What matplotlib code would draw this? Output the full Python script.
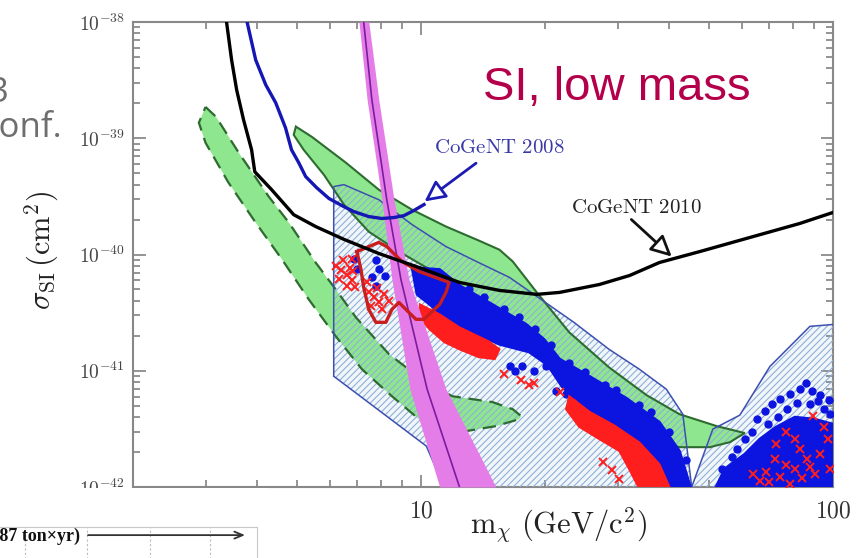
import numpy as np
import matplotlib
matplotlib.use("Agg")
import matplotlib.pyplot as plt
from matplotlib.patches import Polygon, Rectangle
from matplotlib.ticker import FixedLocator, FuncFormatter, NullFormatter

plt.rcParams["mathtext.fontset"] = "cm"
plt.rcParams["hatch.linewidth"] = 0.8

W, H = 858, 558

# CoGeNT 2010 exclusion limit
cogent10_m = [3.35, 3.47, 3.57, 3.71, 3.88, 3.95, 4.34, 4.91, 5.55, 6.50, 7.9, 9.89,
              12.4, 15.5, 19.1, 21.7, 27.1, 32.1, 37.9, 47.5, 62.8, 83.1, 100]
cogent10_s = [1.2e-38, 4.72e-39, 2.6e-39, 1.44e-39, 7.96e-40, 5.15e-40, 3.61e-40, 2.2e-40,
              1.74e-40, 1.35e-40, 1.02e-40, 7.73e-41, 5.75e-41, 4.91e-41, 4.54e-41, 4.72e-41,
              5.52e-41, 6.6e-41, 8.53e-41, 1.06e-40, 1.40e-40, 1.85e-40, 2.3e-40]

# CoGeNT 2008 exclusion limit
cogent08_m = [3.75, 3.97, 4.20, 4.44, 4.69, 4.85, 5.05, 5.25, 5.58, 5.98, 6.50, 6.87,
              7.47, 8.04, 8.60, 9.09, 9.61, 10.17]
cogent08_s = [1.15e-38, 4.72e-39, 2.88e-39, 2.02e-39, 1.23e-39, 7.96e-40, 6.16e-40, 4.68e-40,
              3.76e-40, 3.03e-40, 2.58e-40, 2.34e-40, 2.12e-40, 2.04e-40, 2.08e-40, 2.16e-40,
              2.39e-40, 2.69e-40]

# DAMA without channeling (dashed)
dama_nc_m = [3.00, 3.18, 3.61, 4.27, 4.78, 5.55, 6.21, 6.95, 8.36, 9.89, 11.9, 14.9, 16.7,
             17.5, 17.3, 15.2, 12.9, 11.1, 9.89, 8.50, 7.19, 6.21, 5.34, 4.60, 3.97, 3.41,
             3.00, 2.89]
dama_nc_s = [1.86e-39, 1.53e-39, 7.52e-40, 3.15e-40, 1.88e-40, 8.53e-41, 5.01e-41, 2.88e-41,
             1.39e-41, 8.79e-42, 6.04e-42, 5.38e-42, 4.67e-42, 4.07e-42, 3.83e-42, 3.34e-42,
             3.03e-42, 3.27e-42, 3.83e-42, 6.04e-42, 1.03e-41, 1.98e-41, 4.11e-41, 9.06e-41,
             1.88e-40, 4.15e-40, 9.14e-40, 1.36e-39]

# DAMA with channeling (solid)
dama_c_m = [4.97, 5.43, 6.57, 7.90, 9.51, 11.5, 13.8, 15.5, 16.7, 19.1, 22.9, 28.6, 35.3,
            42.4, 52.2, 61.1, 56.2, 50.2, 42.4, 37.9, 33.9, 28.6, 24.2, 20.5, 17.3, 14.6,
            12.4, 10.5, 8.84, 7.47, 6.50, 5.81, 5.19, 4.91]
dama_c_s = [1.26e-39, 1.03e-39, 6.17e-40, 3.61e-40, 2.43e-40, 1.74e-40, 1.32e-40, 1.10e-40,
            8.71e-41, 4.72e-41, 2.14e-41, 1.07e-41, 6.16e-42, 4.23e-42, 3.34e-42, 2.91e-42,
            2.43e-42, 2.20e-42, 2.20e-42, 2.43e-42, 3.15e-42, 5.15e-42, 8.45e-42, 1.39e-41,
            2.27e-41, 3.37e-41, 5.01e-41, 7.43e-41, 1.06e-40, 1.57e-40, 2.69e-40, 4.86e-40,
            7.96e-40, 1.07e-39]

# hatched allowed region
hatch_m = [6.14, 6.50, 7.90, 9.51, 11.5, 13.8, 16.4, 19.1, 23.5, 28.6, 33.9, 39.4, 43.2,
           45.4, 51.1, 59.4, 70.3, 87.9, 100, 150, 150, 12.4, 10.3, 6.14]
hatch_s = [3.84e-40, 3.99e-40, 2.96e-40, 1.81e-40, 1.17e-40, 8.53e-41, 6.35e-41, 4.36e-41,
           2.61e-41, 1.53e-41, 1.03e-41, 6.94e-42, 4.23e-42, 1.0e-42, 3.15e-42, 4.15e-42,
           1.09e-41, 2.41e-41, 2.5e-41, 2.5e-41, 5e-43, 5e-43, 2.25e-42, 8.97e-42]

# magenta band with its central curve
band_s = [1.0e-38, 2.14e-39, 2.96e-40, 6.1e-41, 6.94e-42, 1.0e-42]
band_lo = [7.07, 7.40, 8.04, 8.50, 9.40, 11.1]
band_hi = [7.47, 7.90, 8.60, 9.35, 11.5, 15.2]
band_mid = [7.26, 7.60, 8.26, 8.94, 10.35, 12.4]

# red contour
red_m = [6.99, 7.90, 8.26, 8.99, 9.89, 11.7, 11.5, 11.1, 10.17, 9.72, 9.19, 8.84, 8.50,
         8.22, 7.77, 7.47, 7.26, 7.15, 6.99]
red_s = [1.06e-40, 1.27e-40, 1.17e-40, 8.71e-41, 7.15e-41, 5.75e-41, 4.72e-41, 3.72e-41,
         2.77e-41, 2.77e-41, 3.37e-41, 3.87e-41, 3.37e-41, 2.61e-41, 2.61e-41, 3.37e-41,
         5.21e-41, 7.43e-41, 1.06e-40]

# dense parts of the model scan
blue_core_m = [9.51, 11.1, 12.4, 14.9, 18.0, 19.9, 21.7, 26.1, 31.5, 37.9, 42.4, 46.1,
               39.7, 35.8, 31.2, 27.1, 23.9, 22.0, 20.3, 18.3, 15.5, 13.1, 11.4, 10.5, 9.78]
blue_core_s = [7.73e-41, 7.43e-41, 5.42e-41, 3.72e-41, 2.51e-41, 1.86e-41, 1.26e-41,
               8.63e-42, 5.81e-42, 3.61e-42, 2.04e-42, 7.7e-43, 7.7e-43, 1.57e-42, 2.58e-42,
               3.83e-42, 5.47e-42, 7.3e-42, 1.12e-41, 1.45e-41, 1.69e-41, 2.2e-41, 2.88e-41,
               3.72e-41, 4.54e-41]
blue_right_m = [50.2, 54.6, 61.1, 66.4, 72.7, 80.8, 90.4, 100, 120, 120]
blue_right_s = [7.7e-43, 1.43e-42, 1.92e-42, 2.58e-42, 3.27e-42, 3.99e-42, 3.83e-42,
                3.47e-42, 3.47e-42, 7.7e-43]
red_core1_m = [9.94, 11.1, 12.4, 14.6, 15.5, 15.1, 13.8, 12.4, 11.4, 10.5, 9.89]
red_core1_s = [3.72e-41, 3.05e-41, 2.36e-41, 1.79e-41, 1.53e-41, 1.26e-41, 1.31e-41,
               1.53e-41, 1.76e-41, 2.27e-41, 2.88e-41]
red_core2_m = [22.9, 25.6, 29.5, 33.9, 37.9, 41.4, 35.0, 32.0, 30.3, 27.1, 24.2, 22.5]
red_core2_s = [6.04e-42, 4.45e-42, 3.37e-42, 2.41e-42, 1.57e-42, 7.7e-43, 7.7e-43,
               1.43e-42, 2.04e-42, 2.58e-42, 3.30e-42, 4.67e-42]

# individual scan points around the dense parts
blue_low_m = [6.87, 6.99, 7.77, 7.90, 7.59, 7.77, 8.18]
blue_low_s = [9.06e-41, 7.43e-41, 8.9e-41, 7.43e-41, 6.4e-41, 5.4e-41, 6.5e-41]
blue_edge_m = [13.1, 14.2, 15.9, 17.3, 18.9, 20.7, 22.9, 25.0, 27.9, 29.8, 33.9, 36.2,
               40.1, 43.9, 16.4, 17.6, 20.1, 21.3, 22.5, 18.8, 16.9]
blue_edge_s = [5.01e-41, 4.3e-41, 3.37e-41, 2.9e-41, 2.27e-41, 1.65e-41, 1.17e-41, 9.8e-42,
               7.5e-42, 6.8e-42, 5.1e-42, 4.4e-42, 3.0e-42, 1.7e-42, 1.09e-41, 1.09e-41,
               1.09e-41, 6.7e-42, 6.3e-42, 9.9e-42, 9.9e-42]
blue_high_m = [65.3, 68.3, 71.2, 74.3, 78.6, 83.1, 86.1, 88.9, 92.9, 97.6, 69.5, 77.5,
               81.6, 87.9, 95.0, 61.1, 58.4, 63.5, 73.5, 91.8, 98.4, 56.8, 53.7]
blue_high_s = [3.83e-42, 4.5e-42, 5.15e-42, 5.69e-42, 6.28e-42, 6.93e-42, 7.8e-42, 6.7e-42,
               6.2e-42, 5.6e-42, 3.47e-42, 4.67e-42, 5.3e-42, 5.15e-42, 4.67e-42, 2.58e-42,
               2.12e-42, 3.0e-42, 4.0e-42, 5.5e-42, 4.23e-42, 1.8e-42, 1.43e-42]
red_low_m = [6.21, 6.40, 6.60, 6.73, 6.80, 6.84, 6.32, 6.60, 6.91, 6.80, 6.45,
             7.47, 7.68, 7.90, 8.13, 7.81, 7.57, 8.04, 8.36, 7.38]
red_low_s = [7.9e-41, 7.3e-41, 6.6e-41, 7.7e-41, 6.0e-41, 7.2e-41, 6.2e-41, 5.4e-41,
             5.3e-41, 9.06e-41, 8.9e-41, 4.8e-41, 4.3e-41, 3.9e-41, 4.54e-41, 5.1e-41,
             3.6e-41, 3.4e-41, 4.0e-41, 5.8e-41]
red_mid_m = [15.9, 17.5, 18.3, 18.8, 27.6, 30.3, 29.0, 23.2, 24.5, 21.7]
red_mid_s = [9.3e-42, 8.4e-42, 7.5e-42, 7.9e-42, 1.64e-42, 1.17e-42, 1.4e-42, 5.2e-42,
             4.2e-42, 6.6e-42]
red_high_m = [76.8, 89.4, 86.6, 68.8, 97.1, 80.8, 74.3, 92.9, 66.4, 83.1, 72.3, 90.4,
              78.6, 72.7, 98.4, 70.0, 77.0, 84.0, 95.0, 64.0, 81.0, 88.0]
red_high_s = [2.96e-42, 4.06e-42, 1.74e-42, 1.35e-42, 2.58e-42, 1.43e-42, 1.23e-42,
              1.92e-42, 1.12e-42, 2.12e-42, 1.74e-42, 1.29e-42, 1.06e-42, 2.34e-42, 1.43e-42,
              1.10e-42, 1.55e-42, 1.20e-42, 3.30e-42, 1.30e-42, 2.60e-42, 1.50e-42]

x_major = [10, 100]
x_minor = [2, 3, 4, 5, 6, 7, 8, 9, 20, 30, 40, 50, 60, 70, 80, 90]
y_major = [1e-42, 1e-41, 1e-40, 1e-39, 1e-38]

GREEN = "#8EE68E"
DKGREEN = "#2E6B30"
HATCH = "#8FB0D6"
BLUE = "#0C14E0"
RED = "#FF1E1E"


def poly(m, s):
    return np.column_stack([m, s])


fig = plt.figure(figsize=(W / 100, H / 100), dpi=100)
fig.patch.set_facecolor("white")
ax = fig.add_axes([133 / W, 1 - 487 / H, 700 / W, 465 / H])
ax.set_xscale("log")
ax.set_yscale("log")
ax.set_xlim(2, 100)
ax.set_ylim(1e-42, 1e-38)

# regions: light base of the hatched area, green DAMA regions, then hatching on top
ax.add_patch(Polygon(poly(hatch_m, hatch_s), closed=True, fc="#F1F6FB", ec="none", zorder=1))
ax.add_patch(Polygon(poly(dama_nc_m, dama_nc_s), closed=True, fc=GREEN, ec="none", zorder=2))
ax.add_patch(Polygon(poly(dama_c_m, dama_c_s), closed=True, fc=GREEN, ec="none", zorder=2))
ax.add_patch(Polygon(poly(hatch_m, hatch_s), closed=True, fill=False, hatch="/////",
                     ec=HATCH, lw=0, zorder=3))
ax.add_patch(Polygon(poly(dama_nc_m, dama_nc_s), closed=True, fill=False, ec=DKGREEN,
                     lw=1.6, ls=(0, (6, 3.5)), zorder=4))
ax.add_patch(Polygon(poly(dama_c_m, dama_c_s), closed=True, fill=False, ec=DKGREEN,
                     lw=1.5, zorder=4))
ax.add_patch(Polygon(poly(hatch_m, hatch_s), closed=True, fill=False, ec="#3D4FB0",
                     lw=1.1, zorder=4))

# model scan: blue dots and red crosses
ax.add_patch(Polygon(poly(blue_core_m, blue_core_s), closed=True, fc=BLUE, ec=BLUE, lw=2, zorder=5))
ax.add_patch(Polygon(poly(blue_right_m, blue_right_s), closed=True, fc=BLUE, ec=BLUE, lw=2, zorder=5))
for bm, bs in [(blue_low_m, blue_low_s), (blue_edge_m, blue_edge_s), (blue_high_m, blue_high_s)]:
    ax.plot(bm, bs, "o", ms=5, color=BLUE, mec=BLUE, zorder=5)
ax.add_patch(Polygon(poly(red_core1_m, red_core1_s), closed=True, fc=RED, ec=RED, lw=1.5, zorder=5.5))
ax.add_patch(Polygon(poly(red_core2_m, red_core2_s), closed=True, fc=RED, ec=RED, lw=1.5, zorder=5.5))
for rm, rs in [(red_low_m, red_low_s), (red_mid_m, red_mid_s), (red_high_m, red_high_s)]:
    ax.plot(rm, rs, "x", ms=6, mew=1.4, color=RED, zorder=5.5)

# magenta band
ax.fill_betweenx(band_s, band_lo, band_hi, color="#E57DE8", lw=0, zorder=6)
ax.plot(band_mid, band_s, color="#7A1C9C", lw=1.2, zorder=6.2)

# red contour and exclusion curves
ax.plot(red_m, red_s, color="#C81E1E", lw=2.4, solid_joinstyle="round", zorder=7)
ax.plot(cogent08_m, cogent08_s, color="#1616B4", lw=2.4, zorder=8)
ax.plot(cogent10_m, cogent10_s, color="black", lw=2.4, zorder=8)

ax.text(15.5, 8.45e-40, r"$\mathrm{CoGeNT\ 2008}$", ha="center", va="center",
        fontsize=15, color="#3838A8", zorder=9)
ax.annotate("", xy=(10.2, 2.86e-40), xytext=(13.6, 6.1e-40), zorder=9,
            arrowprops=dict(arrowstyle="-|>,head_length=0.9,head_width=0.45",
                            ec="#1C1CB4", fc="white", lw=2, mutation_scale=14,
                            shrinkA=0, shrinkB=0))
ax.text(33.3, 2.58e-40, r"$\mathrm{CoGeNT\ 2010}$", ha="center", va="center",
        fontsize=15, color="#222222", zorder=9)
ax.annotate("", xy=(40.6, 9.6e-41), xytext=(32.4, 2.0e-40), zorder=9,
            arrowprops=dict(arrowstyle="-|>,head_length=0.9,head_width=0.45",
                            ec="#111111", fc="white", lw=2, mutation_scale=14,
                            shrinkA=0, shrinkB=0))

# axes styling
ax.xaxis.set_major_locator(FixedLocator(x_major))
ax.xaxis.set_minor_locator(FixedLocator(x_minor))
ax.xaxis.set_major_formatter(FuncFormatter(lambda v, p: r"$%d$" % round(v)))
ax.xaxis.set_minor_formatter(NullFormatter())
ax.yaxis.set_major_locator(FixedLocator(y_major))
ax.yaxis.set_minor_locator(FixedLocator([k * 10.0 ** e for e in range(-42, -38) for k in range(2, 10)]))
ax.yaxis.set_major_formatter(FuncFormatter(lambda v, p: r"$10^{%d}$" % round(np.log10(v))))
ax.yaxis.set_minor_formatter(NullFormatter())
ax.tick_params(which="both", direction="in", top=True, right=True, color="#777777", width=1.1)
ax.tick_params(which="major", length=9)
ax.tick_params(which="minor", length=5)
ax.tick_params(axis="x", which="major", labelsize=17, labelcolor="#333333", pad=8)
ax.tick_params(axis="y", which="major", labelsize=14, labelcolor="#444444", pad=6)
for sp in ax.spines.values():
    sp.set_color("#888888")
    sp.set_linewidth(1.5)

fig.text(42 / W, 1 - 250 / H, r"$\sigma_{\mathrm{SI}}\,(\mathrm{cm}^2)$", rotation=90,
         ha="center", va="center", fontsize=22, color="#222222")
fig.text(470 / W, 1 - 534 / H, r"$\mathrm{m}_{\chi}\ (\mathrm{GeV/c}^2)$", ha="left",
         va="baseline", fontsize=22, color="#222222")

# slide text around the figure
fig.text(8 / W, 1 - 102 / H, "3", ha="right", va="baseline", fontsize=25,
         color="#6E6E6E", family="Open Sans")
fig.text(62 / W, 1 - 137 / H, "conf.", ha="right", va="baseline", fontsize=25,
         color="#6E6E6E", family="Open Sans")
fig.text(483 / W, 1 - 100 / H, "SI, low mass", ha="left", va="baseline", fontsize=34,
         color="#B4004B", family="Liberation Sans")

# overlapping panel in the lower left corner
fig.add_artist(Rectangle((0, 0), 268 / W, 1 - 488 / H, transform=fig.transFigure,
                         fc="white", ec="none", zorder=5))
ins = fig.add_axes([-0.01, -0.03, 257 / W + 0.01, 0.03 + (H - 527) / H], zorder=6)
ins.set_xlim(-8.6, 257)
ins.set_ylim(0, 1)
ins.set_xticks([25, 87, 150, 210])
ins.set_yticks([])
ins.grid(axis="x", ls=(0, (2, 2)), color="#BBBBBB", lw=0.8)
ins.tick_params(length=0, labelbottom=False)
for sp in ins.spines.values():
    sp.set_color("#C8C8C8")
ins.text(80, 0.70, ".87 ton\u00d7yr)", ha="right", va="baseline", fontsize=13,
         fontweight="bold", family="Liberation Serif", color="#111111")
ins.annotate("", xy=(245, 0.83), xytext=(88, 0.83),
             arrowprops=dict(arrowstyle="->,head_length=0.6,head_width=0.25",
                             color="#333333", lw=1.3, shrinkA=0, shrinkB=0))

fig.savefig("out.png", dpi=100)
